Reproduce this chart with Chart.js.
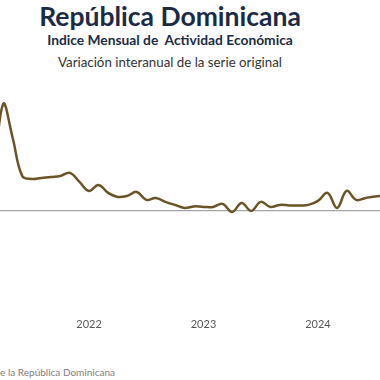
<!DOCTYPE html>
<html lang="es">
<head>
<meta charset="utf-8">
<script src="https://cdn.jsdelivr.net/npm/chart.js@4.4.1/dist/chart.umd.min.js"></script>
<style>
  html, body { margin: 0; padding: 0; background: #fff; }
  #wrap { position: relative; width: 380px; height: 380px; overflow: hidden; font-family: Lato, sans-serif; }
  .head { position: absolute; left: 0; width: 340px; text-align: center; white-space: pre; }
  #t1 { top: 0px; font-size: 26.5px; font-weight: 700; color: #1c2b45; }
  #t2 { top: 31px; font-size: 13.8px; font-weight: 700; color: #1c2b45; }
  #t3 { top: 54px; font-size: 13.3px; color: #333; }
  #src { position: absolute; right: 265px; top: 366px; font-size: 10px; color: #808080; white-space: nowrap; }
  #box { position: absolute; left: 0; top: 0; width: 380px; height: 338px; }
</style>
</head>
<body>
<div id="wrap">
  <div class="head" id="t1">República Dominicana</div>
  <div class="head" id="t2">Indice Mensual de  Actividad Económica</div>
  <div class="head" id="t3">Variación interanual de la serie original</div>
  <div id="box"><canvas id="imae"></canvas></div>
  <div id="src">Fuente: Banco Central de la República Dominicana</div>
</div>
<script>
// meses (mar-21 a ago-24)
const months = ['mar-21','abr-21','may-21','jun-21','jul-21','ago-21','sep-21','oct-21','nov-21','dic-21',
  'ene-22','feb-22','mar-22','abr-22','may-22','jun-22','jul-22','ago-22','sep-22','oct-22','nov-22','dic-22',
  'ene-23','feb-23','mar-23','abr-23','may-23','jun-23','jul-23','ago-23','sep-23','oct-23','nov-23','dic-23',
  'ene-24','feb-24','mar-24','abr-24','may-24','jun-24','jul-24','ago-24'];
// variacion interanual (%)
const values = [12.0, 42.8, 29.2, 14.0, 12.8, 13.2, 13.6, 14.0, 15.2, 11.6,
  8.0, 10.4, 7.2, 5.6, 6.0, 7.6, 4.4, 5.2, 3.6, 2.4, 1.2, 1.8,
  1.6, 1.6, 2.8, -0.4, 3.2, 0.0, 3.6, 1.6, 2.4, 2.2, 2.2, 2.4,
  4.0, 7.2, 1.2, 8.0, 4.4, 5.2, 5.8, 6.0];
const yearLabels = ['2022', '2023', '2024'];
const yearStart = ['ene-22', 'ene-23', 'ene-24'];

const points = values.map((v, i) => ({ x: i, y: v }));

new Chart(document.getElementById('imae'), {
  type: 'line',
  data: {
    datasets: [{
      label: 'IMAE',
      data: points,
      borderColor: '#6b5427',
      borderWidth: 2.5,
      pointRadius: 0,
      tension: 0.4,
      fill: false
    }]
  },
  options: {
    responsive: true,
    maintainAspectRatio: false,
    animation: false,
    layout: { padding: { top: 86, left: 0, right: 0, bottom: 0 } },
    plugins: { legend: { display: false }, tooltip: { enabled: false } },
    scales: {
      x: {
        type: 'linear',
        min: 0.67,
        max: 40.5,
        grid: { display: false, drawTicks: false },
        border: { display: false },
        afterBuildTicks: axis => {
          axis.ticks = yearStart.map(m => ({ value: months.indexOf(m) }));
        },
        ticks: {
          autoSkip: false,
          maxRotation: 0,
          padding: 7,
          color: '#595959',
          font: { family: 'Lato', size: 11 },
          callback: v => yearLabels[yearStart.indexOf(months[v])]
        }
      },
      y: {
        min: -40,
        max: 50,
        ticks: { display: false, stepSize: 10 },
        border: { display: false },
        grid: {
          drawTicks: false,
          lineWidth: 1.2,
          color: ctx => ctx.tick && ctx.tick.value === 0 ? '#a6a6a6' : 'rgba(0,0,0,0)'
        }
      }
    }
  }
});
</script>
</body>
</html>
